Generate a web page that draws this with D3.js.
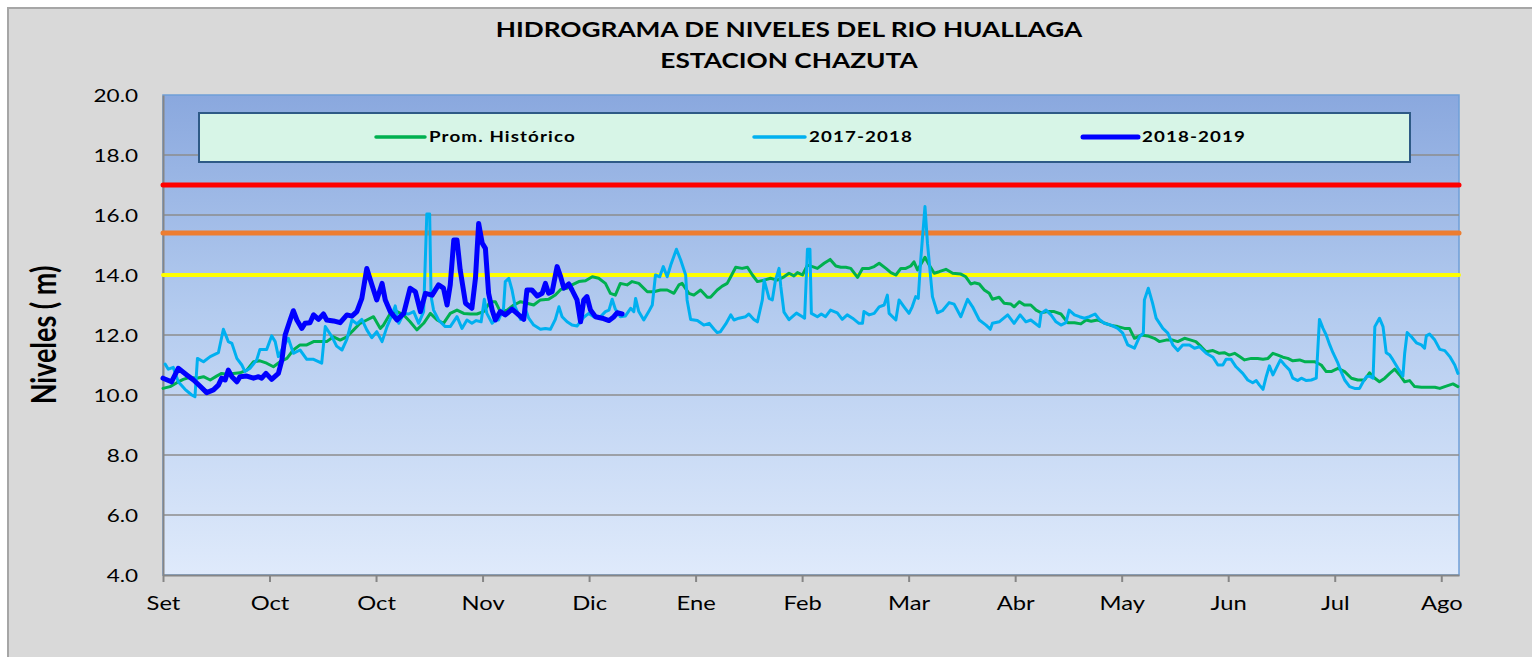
<!DOCTYPE html>
<html>
<head>
<meta charset="utf-8">
<script src="https://cdn.jsdelivr.net/npm/d3@7"></script>
<style>
  html, body { margin: 0; padding: 0; background: #ffffff; }
  svg { display: block; }
  text { font-family: Lato, "Open Sans", sans-serif; }
</style>
</head>
<body>
<svg id="chart" width="1532" height="657"></svg>
<script>
// ---------------- DATA ----------------
const titleLines = ["HIDROGRAMA DE NIVELES DEL RIO HUALLAGA", "ESTACION CHAZUTA"];
const yLabel = "Niveles ( m)";
const monthLabels = ["Set","Oct","Oct","Nov","Dic","Ene","Feb","Mar","Abr","May","Jun","Jul","Ago"];
const yTicks = [4, 6, 8, 10, 12, 14, 16, 18, 20];
const seriesNames = ["Prom. Histórico", "2017-2018", "2018-2019"];
const thresholdLevels = [17.0, 15.4, 14.0];

// [day since 1 Sep, level m]
const promHistorico = [[0,10.22],[2,10.28],[3.9,10.41],[5.7,10.52],[7.6,10.59],[9.5,10.56],[11.4,10.61],[13.3,10.5],[15.1,10.63],[16.5,10.72],[18,10.69],[19.8,10.72],[21.7,10.74],[23.6,10.83],[25.5,11.11],[27.3,11.14],[29.2,11.06],[31.1,10.94],[33,11.11],[34.9,11.22],[36.7,11.5],[38.6,11.67],[40.5,11.67],[42.4,11.78],[44.3,11.78],[46.1,11.78],[48,11.94],[49.9,11.83],[51.8,11.94],[53.7,12.17],[55.5,12.39],[57.4,12.5],[59.3,12.61],[61.2,12.22],[62.1,12.33],[64,12.72],[65.9,12.78],[67.8,12.67],[69.6,12.44],[71.5,12.17],[73.4,12.39],[75.3,12.72],[77.2,12.5],[79,12.39],[80.9,12.72],[82.8,12.83],[84.7,12.72],[86.6,12.7],[88.4,12.7],[90.3,12.78],[92.2,13.11],[93.6,13.11],[95,12.78],[96.9,12.83],[98.8,13.0],[100.7,13.11],[102.5,13.06],[104.4,13.0],[106.3,13.17],[108.6,13.19],[110.5,13.33],[112,13.52],[113.8,13.56],[115.2,13.67],[117.1,13.78],[119,13.81],[120.9,13.94],[122.7,13.89],[124.6,13.72],[126,13.39],[127.4,13.33],[128.8,13.72],[130.7,13.67],[132.1,13.78],[134,13.72],[136.4,13.44],[138.2,13.44],[140.1,13.5],[142,13.5],[143.9,13.39],[145.3,13.67],[146.2,13.72],[148.1,13.39],[149.5,13.33],[151.4,13.5],[153.3,13.26],[154.2,13.26],[156.1,13.5],[157.5,13.63],[158.9,13.72],[159.9,13.94],[161.3,14.26],[163.1,14.22],[164.6,14.26],[166,14.0],[167.4,13.78],[169.3,13.83],[171.1,13.89],[173,13.83],[174.9,13.94],[176.3,14.06],[177.7,13.97],[178.7,14.08],[180.1,14.0],[181.5,14.33],[182.9,14.28],[184.3,14.22],[186.2,14.39],[187.9,14.52],[189.5,14.3],[190.9,14.26],[192.3,14.26],[193.7,14.22],[195.6,13.92],[197,14.22],[198.9,14.22],[200.3,14.28],[201.7,14.39],[203.6,14.22],[205,14.08],[206.4,14.0],[207.8,14.22],[209.2,14.22],[210.6,14.3],[211.5,14.44],[212.5,14.17],[213.6,14.39],[214.6,14.59],[215.8,14.33],[217.2,14.06],[218.6,14.11],[220.5,14.19],[222.4,14.06],[224.7,14.03],[226.1,13.94],[227.5,13.7],[228.5,13.74],[229.9,13.7],[231.3,13.5],[232.7,13.39],[233.6,13.19],[235.5,13.26],[236.9,13.06],[238.8,13.03],[239.7,12.94],[241.2,13.11],[242.6,13.0],[244.4,13.0],[245.9,12.83],[247.3,12.74],[249.1,12.78],[251,12.78],[252.9,12.7],[254.8,12.41],[256.7,12.41],[258.5,12.37],[260,12.5],[261.4,12.46],[263.2,12.5],[265.1,12.4],[267,12.32],[268.9,12.28],[270.8,12.22],[272.2,12.22],[273.6,11.89],[275.5,12.0],[277.3,11.97],[279.2,11.89],[280.6,11.78],[282.5,11.83],[284.4,11.83],[285.8,11.78],[287.7,11.89],[289.5,11.83],[290.9,11.78],[292.4,11.61],[293.8,11.44],[295.7,11.48],[297.5,11.39],[298.9,11.41],[300.3,11.33],[301.8,11.39],[303.2,11.28],[304.6,11.17],[306.5,11.22],[308.3,11.22],[309.8,11.19],[311.2,11.22],[312.6,11.39],[314,11.33],[315.4,11.26],[316.8,11.22],[318.2,11.14],[320.1,11.17],[321.5,11.11],[323.4,11.11],[324.3,11.11],[326.2,11.0],[327.6,10.78],[329,10.78],[330.9,10.89],[332.8,10.78],[334.7,10.56],[336.5,10.5],[338.4,10.5],[339.8,10.74],[341.3,10.56],[342.6,10.44],[344.1,10.56],[345.5,10.72],[346.9,10.86],[348.3,10.67],[349.7,10.44],[351.1,10.48],[352.5,10.28],[354.4,10.26],[356.3,10.26],[358.2,10.26],[359.6,10.22],[361,10.28],[363.3,10.37],[364.7,10.28]];

const serie20172018 = [[0.6,11.03],[1.5,10.86],[2.9,10.92],[4.3,10.44],[6.2,10.19],[8.1,10.0],[9,9.94],[9.7,11.22],[11.4,11.11],[13.3,11.28],[15.6,11.41],[17,12.19],[18.4,11.78],[19.4,11.72],[20.8,11.22],[22.2,11.0],[23.1,10.78],[24.5,10.89],[26.4,11.17],[27.3,11.52],[29.2,11.52],[30.6,11.97],[31.6,11.78],[32.5,11.28],[33.9,11.61],[35.3,11.89],[36.7,11.39],[38.6,11.5],[40.5,11.19],[42.4,11.19],[44.7,11.06],[45.7,12.28],[47.6,11.94],[48.9,11.63],[50.4,11.5],[51.8,11.86],[53.2,12.5],[54.6,12.37],[56,12.52],[57.4,12.17],[58.8,11.91],[60.2,12.11],[61.7,11.78],[63.1,12.28],[64.5,12.67],[65.4,12.97],[66.4,12.39],[67.8,12.72],[69.2,12.7],[70.6,12.78],[72,12.39],[73.4,12.78],[74.3,16.03],[75.1,16.03],[75.5,13.28],[76.2,12.83],[77.6,12.5],[79.5,12.28],[80.9,12.28],[82.8,12.61],[84.2,12.22],[85.6,12.5],[87,12.39],[88.2,12.48],[89.6,12.44],[90.5,13.19],[91.2,12.72],[92.7,12.39],[93.6,12.5],[94.5,12.5],[95.9,12.89],[96.4,13.78],[97.4,13.89],[98.3,13.5],[99.2,12.94],[100.7,12.52],[102.1,12.86],[103,12.56],[104.4,12.33],[106.3,12.19],[107.7,12.22],[109.1,12.19],[110.5,12.52],[111.5,12.94],[112.4,12.61],[113.8,12.44],[115.2,12.33],[116.6,12.3],[118.5,12.59],[119.9,12.72],[121.3,12.61],[123.2,12.61],[124.6,12.78],[125.6,12.83],[126.5,13.19],[127.4,12.86],[128.8,12.61],[130.2,12.63],[131.7,12.89],[132.6,12.78],[133.1,13.22],[134,12.78],[135.4,12.5],[136.8,12.78],[137.8,13.0],[138.7,14.0],[139.9,13.94],[140.9,14.28],[142,13.94],[143,14.33],[144.6,14.86],[145.8,14.5],[147.2,14.0],[147.6,13.17],[148.6,12.52],[150.5,12.48],[152.3,12.33],[153.8,12.39],[155.2,12.19],[156.1,12.08],[157,12.11],[158.5,12.37],[159.9,12.67],[160.8,12.5],[162.2,12.56],[164.1,12.61],[165,12.7],[166.4,12.52],[167.4,12.44],[168.8,13.17],[169.3,13.83],[170.7,13.22],[171.6,13.17],[172.5,13.83],[173.5,14.22],[174,13.61],[174.9,12.76],[176.3,12.51],[178.4,12.73],[180.1,12.61],[180.7,12.56],[181.5,14.86],[182.2,14.86],[182.6,12.72],[184.3,12.61],[185.4,12.7],[186.6,12.61],[188,12.83],[189.9,12.74],[191.3,12.52],[192.7,12.67],[194.2,12.56],[196,12.39],[197,12.39],[197.4,12.78],[198.9,12.67],[200.3,12.72],[201.7,12.94],[203.1,13.0],[204,13.33],[204.5,12.72],[206.4,12.5],[207.3,13.17],[208.7,12.94],[210.1,12.72],[211,12.94],[212,13.28],[212.7,13.22],[213.4,14.5],[214.6,16.28],[215.3,15.06],[216.7,13.28],[218.1,12.74],[219.5,12.81],[221.4,13.08],[222.8,13.03],[224.7,12.61],[226.6,13.19],[228,12.94],[229.9,12.5],[231.8,12.33],[233,12.19],[233.6,12.39],[235.5,12.44],[237.9,12.67],[239.7,12.39],[241.4,12.67],[243,12.44],[244.4,12.5],[245.4,12.41],[246.8,12.28],[247.3,12.72],[248.7,12.83],[250.1,12.67],[251.5,12.44],[252.9,12.33],[254.3,12.41],[255.2,12.83],[256.7,12.67],[258.1,12.61],[259.5,12.56],[260.9,12.61],[262.5,12.7],[263.7,12.52],[265.1,12.39],[267,12.33],[268.9,12.22],[270.3,12.06],[271.7,11.67],[273.6,11.56],[275,11.94],[276.1,12.06],[276.4,13.17],[277.5,13.56],[278.7,13.06],[279.7,12.56],[281.6,12.22],[283,12.06],[284.4,11.67],[285.8,11.48],[287.2,11.67],[289.1,11.67],[290.5,11.56],[291.9,11.61],[293.8,11.39],[295.7,11.26],[297.1,11.0],[298.5,11.0],[299.4,11.19],[300.8,11.19],[302.2,10.94],[304.1,10.72],[305.5,10.5],[306.9,10.41],[307.9,10.48],[308.8,10.33],[309.8,10.19],[310.7,10.61],[311.6,10.97],[312.6,10.67],[313.5,10.89],[314.7,11.17],[315.9,11.0],[317.3,10.83],[318.2,10.56],[319.6,10.48],[320.6,10.56],[322,10.48],[323.4,10.5],[324.8,10.56],[325.7,12.52],[326.7,12.22],[327.6,12.0],[328.6,11.67],[329.5,11.41],[330.9,11.06],[331.8,10.78],[332.8,10.5],[334.2,10.28],[335.6,10.22],[337,10.22],[338,10.44],[338.9,10.61],[339.8,10.63],[340.8,10.56],[341.3,12.28],[342.6,12.56],[343.6,12.28],[344.5,11.41],[345.5,11.33],[346.4,11.17],[347.8,10.89],[349.2,10.63],[349.7,11.39],[350.4,12.08],[351.6,11.94],[353,11.74],[354.4,11.67],[355.3,11.56],[355.8,11.97],[356.7,12.03],[358.2,11.83],[359.6,11.52],[361,11.48],[362.4,11.28],[363.8,11.0],[364.7,10.72]];

const serie20182019 = [[0,10.56],[2.4,10.44],[4.3,10.89],[6.7,10.67],[8.6,10.5],[10.4,10.3],[12.3,10.08],[14.2,10.17],[15.6,10.33],[16.5,10.56],[17.5,10.5],[18.4,10.83],[19.4,10.61],[20.8,10.44],[21.7,10.61],[23.6,10.63],[25.5,10.56],[26.9,10.61],[27.8,10.56],[29,10.72],[30.6,10.52],[32.5,10.72],[33.5,11.17],[34.4,12.0],[35.8,12.5],[36.7,12.81],[37.7,12.5],[39.1,12.22],[40,12.39],[41.4,12.41],[42.4,12.67],[43.8,12.52],[45.2,12.7],[46.1,12.5],[48,12.47],[49.9,12.41],[51.8,12.67],[53.2,12.63],[54.6,12.78],[56,13.22],[57.4,14.22],[58.4,13.83],[60.2,13.17],[61.7,13.72],[62.6,13.17],[64,12.78],[65.9,12.5],[67.8,12.72],[69.6,13.56],[71.1,13.44],[72.5,12.78],[73.9,13.39],[75.8,13.33],[77.6,13.67],[79,13.56],[80,13.0],[80.9,13.67],[81.9,15.17],[82.8,15.17],[83.7,14.17],[85.2,13.06],[87,12.89],[88,13.89],[88.9,15.72],[89.9,15.06],[90.8,14.89],[91.7,13.39],[92.7,12.83],[93.6,12.5],[95,12.78],[96.4,12.67],[98.3,12.86],[99.7,12.72],[101.6,12.52],[102.5,13.5],[103.9,13.5],[105.4,13.3],[106.8,13.39],[107.7,13.72],[108.6,13.39],[109.6,13.44],[111,14.28],[112,13.94],[112.9,13.56],[114.3,13.7],[115.2,13.5],[116.6,13.17],[117.6,12.44],[118.5,13.17],[119.4,13.28],[120.4,12.83],[121.8,12.61],[123.7,12.56],[125.6,12.48],[127,12.61],[127.9,12.74],[129.3,12.7]];

// ---------------- LAYOUT ----------------
const W = 1532, H = 657;
const plot = { left: 163, right: 1459, top: 95, bottom: 575 };
const SX = 1.25; // horizontal stretch of text glyphs (as in original export)

const svg = d3.select("#chart");

const x = d3.scaleLinear().domain([0, 365]).range([plot.left, plot.right]);
const y = d3.scaleLinear().domain([4, 20]).range([plot.bottom, plot.top]);

// outer frame
svg.append("rect").attr("x", 0).attr("y", 0).attr("width", W).attr("height", H).attr("fill", "#ffffff");
svg.append("rect").attr("x", 8).attr("y", 8).attr("width", W + 20).attr("height", H + 20)
  .attr("fill", "#d9d9d9").attr("stroke", "#a6a6a6").attr("stroke-width", 2);

// gradient
const defs = svg.append("defs");
const grad = defs.append("linearGradient").attr("id", "plotGrad")
  .attr("x1", 0).attr("y1", 0).attr("x2", 0).attr("y2", 1);
grad.append("stop").attr("offset", "0%").attr("stop-color", "#8aa8de");
grad.append("stop").attr("offset", "45%").attr("stop-color", "#b3cbef");
grad.append("stop").attr("offset", "100%").attr("stop-color", "#dfeafb");

svg.append("rect").attr("x", plot.left).attr("y", plot.top)
  .attr("width", plot.right - plot.left).attr("height", plot.bottom - plot.top)
  .attr("fill", "url(#plotGrad)").attr("stroke", "#6f9fd8").attr("stroke-width", 1.5);

// title
const titleG = svg.append("g");
titleLines.forEach((t, i) => {
  titleG.append("text")
    .attr("transform", `translate(789, ${37 + i * 31}) scale(${SX},1)`)
    .attr("text-anchor", "middle")
    .attr("font-size", 21).attr("font-weight", 700).attr("fill", "#000")
    .text(t);
});

// y label
svg.append("text")
  .attr("transform", `translate(56, 335) scale(${SX},1) rotate(-90)`)
  .attr("text-anchor", "middle")
  .attr("font-size", 27).attr("font-weight", 700).attr("fill", "#000")
  .text(yLabel);

// gridlines
svg.append("g").selectAll("line").data(yTicks.filter(v => v > 4 && v < 20)).join("line")
  .attr("x1", plot.left).attr("x2", plot.right)
  .attr("y1", d => y(d)).attr("y2", d => y(d))
  .attr("stroke", "#8c8c8c").attr("stroke-width", 1.5);

// y axis
const yAxis = svg.append("g").attr("transform", `translate(${plot.left},0)`)
  .call(d3.axisLeft(y).tickValues(yTicks).tickFormat(d3.format(".1f")).tickSize(0));
yAxis.select(".domain").attr("stroke", "#868686").attr("stroke-width", 2);
yAxis.selectAll(".tick text")
  .attr("x", -25 / SX).attr("dy", "0.36em")
  .attr("transform", `scale(${SX},1)`)
  .attr("font-size", 18).attr("font-family", "Lato, sans-serif").attr("fill", "#000");

// x axis
const tickDays = monthLabels.map((_, i) => i * 30);
const xAxis = svg.append("g").attr("transform", `translate(0,${plot.bottom})`)
  .call(d3.axisBottom(x).tickValues(tickDays).tickFormat((d, i) => monthLabels[i]).tickSize(7).tickSizeOuter(0));
xAxis.select(".domain").attr("stroke", "#868686").attr("stroke-width", 2);
xAxis.selectAll(".tick line").attr("stroke", "#868686").attr("stroke-width", 2);
xAxis.selectAll(".tick text")
  .attr("y", 35).attr("dy", 0)
  .attr("transform", `scale(${SX},1)`)
  .attr("font-size", 19).attr("font-family", "Lato, sans-serif").attr("fill", "#000");

// threshold lines
const thresholdColors = ["#ff0000", "#ed7d31", "#ffff00"];
const thresholdWidths = [5, 5, 4];
svg.append("g").selectAll("line").data(thresholdLevels).join("line")
  .attr("x1", plot.left).attr("x2", plot.right)
  .attr("y1", d => y(d)).attr("y2", d => y(d))
  .attr("stroke", (d, i) => thresholdColors[i])
  .attr("stroke-width", (d, i) => thresholdWidths[i])
  .attr("stroke-linecap", "round");

// series
const colors = ["#00b050", "#00b0f0", "#0000ff"];
const widths = [3, 3, 5];
const allSeries = [promHistorico, serie20172018, serie20182019];
const line = d3.line().x(d => x(d[0])).y(d => y(d[1])).curve(d3.curveLinear);
svg.append("g").selectAll("path").data(allSeries).join("path")
  .attr("d", line)
  .attr("fill", "none")
  .attr("stroke", (d, i) => colors[i])
  .attr("stroke-width", (d, i) => widths[i])
  .attr("stroke-linejoin", "round").attr("stroke-linecap", "round");

// legend
const lg = svg.append("g");
lg.append("rect").attr("x", 199).attr("y", 113).attr("width", 1211).attr("height", 49)
  .attr("fill", "#d7f5e7").attr("stroke", "#2e5a86").attr("stroke-width", 2);
const legendX = [376, 754, 1083];
const legendLen = [49, 51, 55];
seriesNames.forEach((name, i) => {
  lg.append("line").attr("x1", legendX[i]).attr("x2", legendX[i] + legendLen[i])
    .attr("y1", 137).attr("y2", 137)
    .attr("stroke", colors[i]).attr("stroke-width", widths[i] === 5 ? 5 : 3.5)
    .attr("stroke-linecap", "round");
  lg.append("text")
    .attr("transform", `translate(${legendX[i] + legendLen[i] + 4}, 142) scale(${SX},1)`)
    .attr("font-size", 15).attr("font-weight", 700).attr("letter-spacing", 0.9).attr("fill", "#000")
    .text(name);
});
</script>
</body>
</html>
